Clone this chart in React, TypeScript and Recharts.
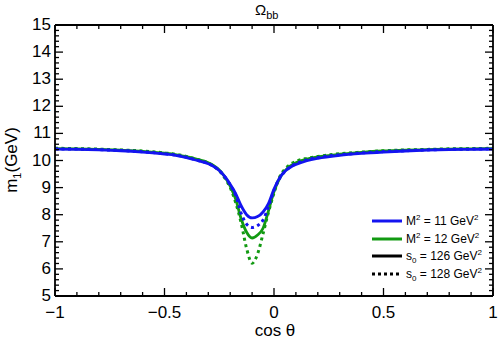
import React from "react"
import { LineChart, Line, XAxis, YAxis, Legend, Label } from "recharts"

const cosTheta = [-1, -0.9, -0.8, -0.7, -0.6, -0.5, -0.45, -0.4, -0.35, -0.3, -0.275, -0.25, -0.225, -0.2, -0.175, -0.15, -0.125, -0.1, -0.075, -0.05, -0.025, 0, 0.025, 0.05, 0.075, 0.1, 0.15, 0.2, 0.3, 0.4, 0.5, 0.6, 0.7, 0.8, 0.9, 1]

// M^2 = 11, s0 = 126 (blue solid)
const m1M11s126 = [10.42, 10.41, 10.39, 10.36, 10.31, 10.24, 10.19, 10.11, 10.0, 9.88, 9.78, 9.63, 9.41, 9.12, 8.78, 8.33, 8.0, 7.88, 7.93, 8.1, 8.42, 8.95, 9.35, 9.6, 9.75, 9.85, 9.99, 10.08, 10.19, 10.26, 10.31, 10.35, 10.38, 10.4, 10.41, 10.42]
// M^2 = 11, s0 = 128 (blue dotted)
const m1M11s128 = [10.43, 10.42, 10.4, 10.37, 10.32, 10.25, 10.2, 10.12, 10.01, 9.89, 9.79, 9.63, 9.4, 9.1, 8.72, 8.05, 7.65, 7.53, 7.6, 7.8, 8.3, 8.9, 9.33, 9.6, 9.77, 9.88, 10.02, 10.11, 10.21, 10.28, 10.33, 10.36, 10.39, 10.41, 10.42, 10.43]
// M^2 = 12, s0 = 126 (green solid)
const m1M12s126 = [10.44, 10.43, 10.41, 10.38, 10.34, 10.27, 10.22, 10.14, 10.04, 9.92, 9.81, 9.65, 9.4, 9.05, 8.58, 7.85, 7.35, 7.14, 7.25, 7.5, 8.15, 8.85, 9.33, 9.62, 9.8, 9.92, 10.05, 10.13, 10.23, 10.3, 10.35, 10.38, 10.4, 10.42, 10.43, 10.44]
// M^2 = 12, s0 = 128 (green dotted)
const m1M12s128 = [10.45, 10.44, 10.42, 10.39, 10.35, 10.28, 10.23, 10.15, 10.04, 9.91, 9.79, 9.62, 9.36, 9.0, 8.45, 7.7, 6.75, 6.21, 6.55, 7.3, 8.1, 8.8, 9.38, 9.68, 9.86, 9.97, 10.08, 10.15, 10.25, 10.31, 10.36, 10.39, 10.41, 10.43, 10.44, 10.45]

const xMajor = [-1, -0.5, 0, 0.5, 1]
const yMajor = [5, 6, 7, 8, 9, 10, 11, 12, 13, 14, 15]

const xTicks = Array.from({ length: 21 }, (_, i) => Math.round((-1 + i * 0.1) * 10) / 10)
const yTicks = Array.from({ length: 51 }, (_, i) => Math.round((5 + i * 0.2) * 10) / 10)

const data = cosTheta.map((c, i) => ({
  cos: c,
  b1: m1M11s126[i],
  b2: m1M11s128[i],
  g1: m1M12s126[i],
  g2: m1M12s128[i],
}))

const BLUE = "#1414f0"
const GREEN = "#129a12"
const FONT = "'Liberation Sans', Arial, sans-serif"

const fmt = (v: number) => (v < 0 ? "\u2212" + Math.abs(v) : String(v))

function XTick({ x, y, payload, top }: any) {
  const major = xMajor.includes(payload.value)
  const len = major ? 8 : 4
  const dir = top ? 1 : -1
  return (
    <g>
      <line x1={x} x2={x} y1={y} y2={y + dir * len} stroke="#000" strokeWidth={1.3} />
      {major && !top && (
        <text x={x} y={y + 22} textAnchor="middle" fontSize={17} fontFamily={FONT} fill="#000">
          {fmt(payload.value)}
        </text>
      )}
    </g>
  )
}

function YTick({ x, y, payload, right }: any) {
  const major = yMajor.includes(payload.value)
  const len = major ? 8 : 4
  const dir = right ? -1 : 1
  return (
    <g>
      <line x1={x} x2={x + dir * len} y1={y} y2={y} stroke="#000" strokeWidth={1.3} />
      {major && !right && (
        <text x={x - 4} y={y + 5} textAnchor="end" fontSize={17} fontFamily={FONT} fill="#000">
          {payload.value}
        </text>
      )}
    </g>
  )
}

const legendItems = [
  { color: BLUE, dash: undefined, name: "M", sup1: "2", sub1: "", val: " = 11 GeV" },
  { color: GREEN, dash: undefined, name: "M", sup1: "2", sub1: "", val: " = 12 GeV" },
  { color: "#000", dash: undefined, name: "s", sup1: "", sub1: "0", val: " = 126 GeV" },
  { color: "#000", dash: "3 3", name: "s", sup1: "", sub1: "0", val: " = 128 GeV" },
]

function LegendBox() {
  return (
    <div style={{ fontFamily: FONT, fontSize: 12, color: "#000" }}>
      {legendItems.map((it, i) => (
        <div key={i} style={{ display: "flex", alignItems: "center", height: 17.8 }}>
          <svg width={30} height={8} style={{ marginLeft: 4, marginRight: 4 }}>
            <line x1={0} x2={30} y1={4} y2={4} stroke={it.color} strokeWidth={3} strokeDasharray={it.dash} />
          </svg>
          <span style={{ whiteSpace: "nowrap" }}>
            {it.name}
            {it.sup1 && <sup style={{ fontSize: 8 }}>{it.sup1}</sup>}
            {it.sub1 && <sub style={{ fontSize: 8 }}>{it.sub1}</sub>}
            {it.val}
            <sup style={{ fontSize: 8 }}>2</sup>
          </span>
        </div>
      ))}
    </div>
  )
}

export default function App() {
  const axisLine = { stroke: "#000", strokeWidth: 1.8 }
  return (
    <div style={{ width: 499, height: 339, background: "#fff" }}>
      <style>{"body{margin:0}"}</style>
      <LineChart width={499} height={339} data={data} margin={{ top: 0, right: 0, bottom: 0, left: 0 }}>
        <XAxis
          xAxisId="b"
          dataKey="cos"
          type="number"
          domain={[-1, 1]}
          ticks={xTicks}
          interval={0}
          height={43}
          tickSize={0}
          tickMargin={0}
          tickLine={false}
          axisLine={axisLine}
          tick={<XTick />}
          allowDataOverflow
        >
          <Label
            content={() => (
              <text x={275} y={336} textAnchor="middle" fontSize={17} fontFamily={FONT} fill="#000">
                cos θ
              </text>
            )}
          />
        </XAxis>
        <XAxis
          xAxisId="t"
          orientation="top"
          dataKey="cos"
          type="number"
          domain={[-1, 1]}
          ticks={xTicks}
          interval={0}
          height={25}
          tickSize={0}
          tickMargin={0}
          tickLine={false}
          axisLine={axisLine}
          tick={<XTick top />}
          allowDataOverflow
        >
          <Label
            content={() => (
              <text x={255} y={15} fontSize={15} fontFamily={FONT} fill="#000">
                Ω<tspan fontSize={11} dy={4}>bb</tspan>
              </text>
            )}
          />
        </XAxis>
        <YAxis
          yAxisId="l"
          type="number"
          domain={[5, 15]}
          ticks={yTicks}
          interval={0}
          width={55}
          tickSize={0}
          tickMargin={0}
          tickLine={false}
          axisLine={axisLine}
          tick={<YTick />}
          allowDataOverflow
        >
          <Label
            content={() => (
              <text x={17} y={160} transform="rotate(-90 17 160)" textAnchor="middle" fontSize={17} fontFamily={FONT} fill="#000">
                m<tspan fontSize={11} dy={4}>1</tspan>
                <tspan dy={-4}>(GeV)</tspan>
              </text>
            )}
          />
        </YAxis>
        <YAxis
          yAxisId="r"
          orientation="right"
          type="number"
          domain={[5, 15]}
          ticks={yTicks}
          interval={0}
          width={6}
          tickSize={0}
          tickMargin={0}
          tickLine={false}
          axisLine={axisLine}
          tick={<YTick right />}
          allowDataOverflow
        />
        <Legend
          layout="vertical"
          align="center"
          verticalAlign="middle"
          content={() => <LegendBox />}
          wrapperStyle={{ left: 368, top: 212, width: 131, height: 72 }}
        />
        <Line xAxisId="b" yAxisId="l" type="monotone" dataKey="g2" stroke={GREEN} strokeWidth={3} strokeDasharray="3 3.5" dot={false} isAnimationActive={false} />
        <Line xAxisId="b" yAxisId="l" type="monotone" dataKey="g1" stroke={GREEN} strokeWidth={2.8} dot={false} isAnimationActive={false} />
        <Line xAxisId="b" yAxisId="l" type="monotone" dataKey="b2" stroke={BLUE} strokeWidth={3} strokeDasharray="3 3.5" dot={false} isAnimationActive={false} />
        <Line xAxisId="b" yAxisId="l" type="monotone" dataKey="b1" stroke={BLUE} strokeWidth={2.8} dot={false} isAnimationActive={false} />
      </LineChart>
    </div>
  )
}
